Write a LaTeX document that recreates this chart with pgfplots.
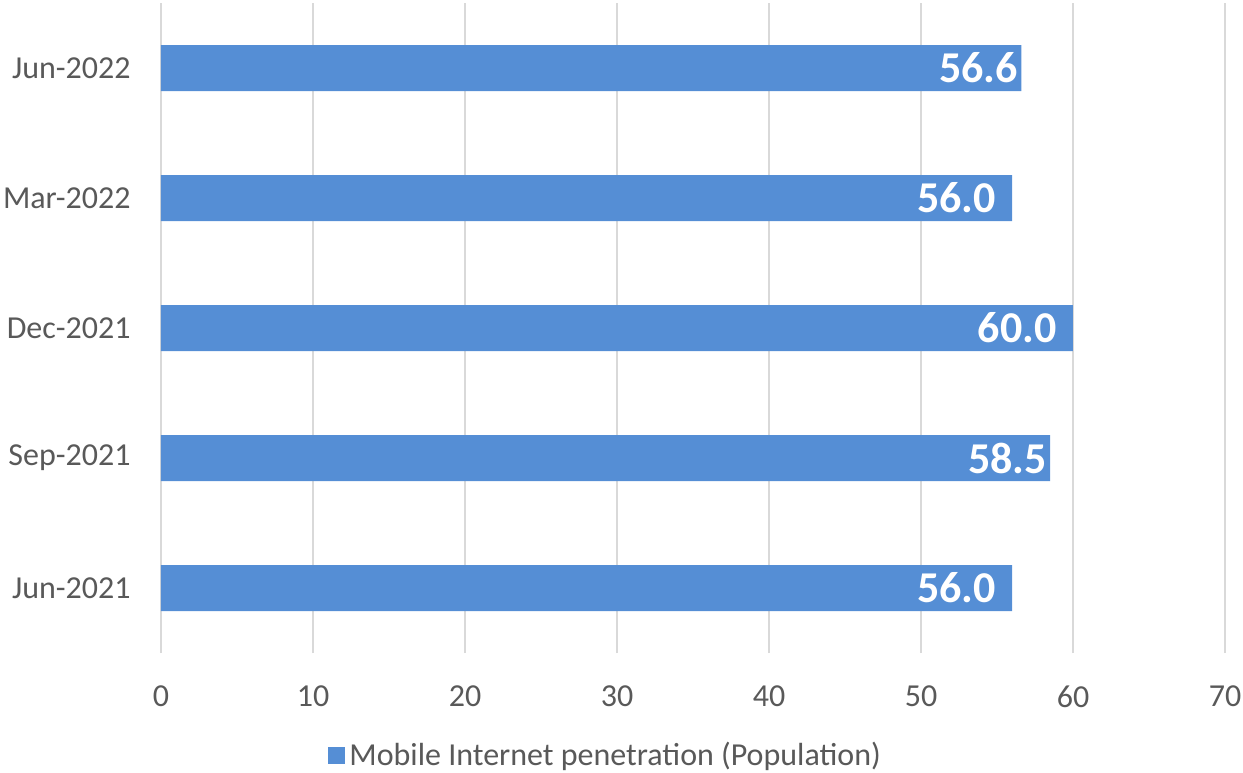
\documentclass[border=0pt]{standalone}
\usepackage{pgfplots}
\pgfplotsset{compat=1.18}
\usepackage{fontspec}
\setmainfont{Carlito}
\definecolor{barblue}{RGB}{85,142,213}
\definecolor{txtgray}{RGB}{89,89,89}
\definecolor{gridgray}{RGB}{217,217,217}
\pgfplotstableread{
val pos sh
56.0 0 7.0
58.5 1 0.5
60.0 2 7.0
56.0 3 7.0
56.6 4 0.5
}\datatab
\begin{document}
\begin{tikzpicture}
\begin{axis}[
  name=ax,
  scale only axis,
  width=532pt, height=325pt,
  xbar, bar width=23pt,
  xmin=0, xmax=70,
  ymin=-0.5, ymax=4.5,
  xtick={0,10,...,70},
  ytick={0,1,2,3,4},
  yticklabels={Jun-2021,Sep-2021,Dec-2021,Mar-2022,Jun-2022},
  xmajorgrids, major grid style={gridgray, line width=1pt},
  axis line style={draw=none},
  major tick length=0pt,
  tick label style={font=\fontsize{16}{18}\selectfont, text=txtgray},
  /pgf/number format/assume math mode=true,
  yticklabel style={inner sep=0pt, xshift=-15pt},
  xticklabel style={inner sep=0pt, yshift=-16pt},
  nodes near coords,
  visualization depends on={\thisrow{sh}\as\labsh},
  nodes near coords style={anchor=east, inner sep=1pt, xshift=-\labsh pt, text=white, font=\fontsize{22}{24}\selectfont\bfseries,
    /pgf/number format/.cd, fixed, fixed zerofill, precision=1, assume math mode=true},
  legend style={draw=none, at={(0.157,-0.158)}, anchor=west, font=\fontsize{16}{18}\selectfont, text=txtgray, inner sep=0pt},
  legend image code/.code={\fill[barblue] (0pt,-4.25pt) rectangle (8.5pt,4.25pt);},
]
\addplot[fill=barblue, draw=none] table[x=val, y=pos] {\datatab};
\addlegendentry{Mobile Internet penetration (Population)}
\end{axis}
\pgfresetboundingbox
\path[use as bounding box] ([shift={(-80.5pt,-59.5pt)}]ax.south west) rectangle ([shift={(541pt,326.5pt)}]ax.south west);
\end{tikzpicture}
\end{document}
